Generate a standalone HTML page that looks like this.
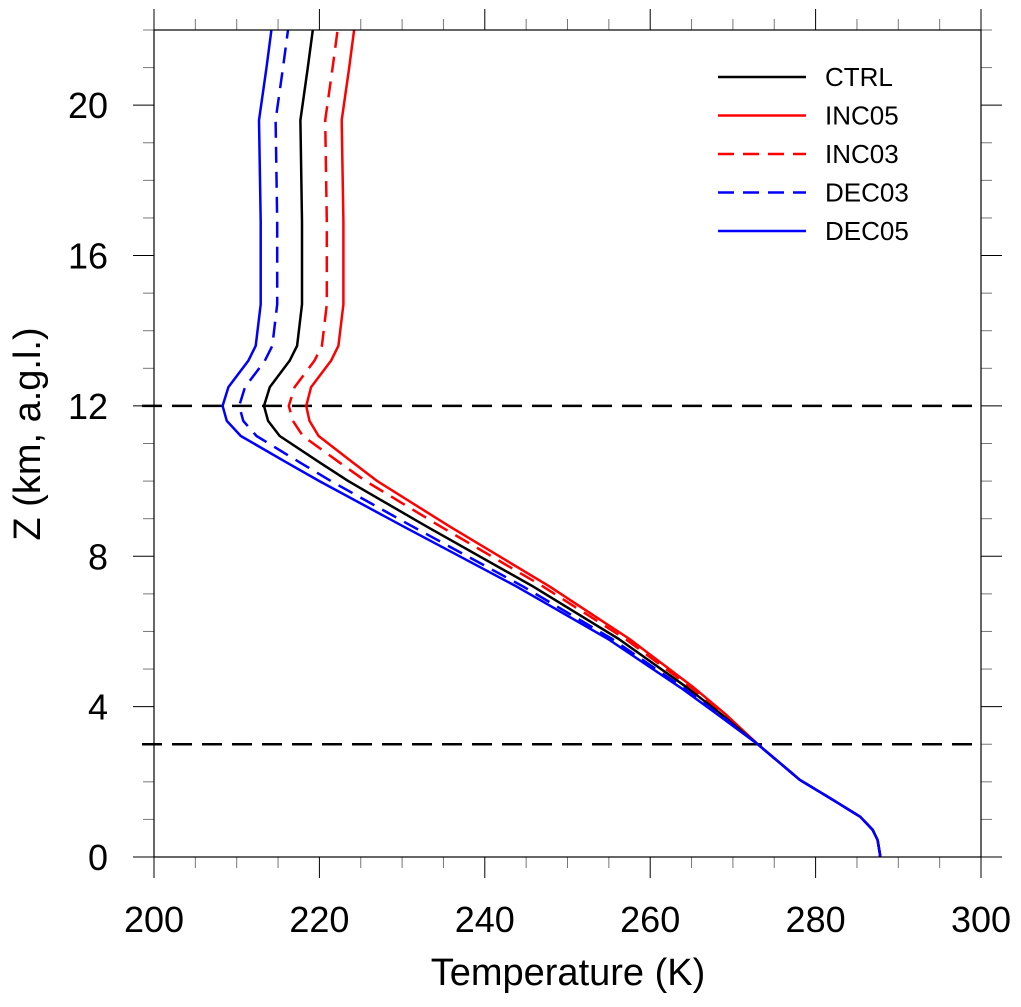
<!DOCTYPE html>
<html><head><meta charset="utf-8"><style>
body{margin:0;background:#fff}
svg text{font-family:"Liberation Sans",sans-serif;fill:#000}
</style></head><body>
<svg id="chart" width="1021" height="1002" xmlns="http://www.w3.org/2000/svg">
<g id="ticks"></g>
<g id="refs"></g>
<g id="series"></g>
<rect x="154" y="30" width="827" height="827" fill="none" stroke="#000" stroke-width="1.2"/>
<g id="labels"></g>
<text x="568" y="985" font-size="38" text-anchor="middle">Temperature (K)</text>
<text transform="translate(40,434) rotate(-90)" font-size="38" text-anchor="middle">Z (km, a.g.l.)</text>
<g id="legend"></g>
</svg>
<script>
const levels=[0,0.05,0.45,0.72,1.07,1.52,2.05,3.0,3.8,4.5,5.8,7.2,8.8,10.0,10.5,11.2,11.6,12.0,12.5,13.2,13.6,14.7,16.9,19.6,21.0,22];
const ctrl=[287.8,287.8,287.5,286.9,285.4,282.1,278.1,273.0,268.6,264.5,256.2,245.8,232.9,223.5,220.0,215.2,213.8,213.3,214.0,216.4,217.3,217.9,217.9,217.7,218.6,219.2];
const inc05=[287.8,287.8,287.5,286.9,285.4,282.1,278.1,273.0,269.1,265.3,257.5,247.8,235.7,227.0,224.0,219.9,218.8,218.4,219.0,221.4,222.3,222.9,222.9,222.7,223.6,224.2];
const inc03=[287.8,287.8,287.5,286.9,285.4,282.1,278.1,273.0,268.9,265.0,257.0,247.0,234.6,225.6,222.4,218.0,216.8,216.3,217.0,219.4,220.3,220.9,220.9,220.7,221.6,222.2];
const dec03=[287.8,287.8,287.5,286.9,285.4,282.1,278.1,273.0,268.3,264.0,255.4,244.6,231.2,221.4,217.6,212.4,210.8,210.3,211.0,213.4,214.3,214.9,214.9,214.7,215.6,216.2];
const dec05=[287.8,287.8,287.5,286.9,285.4,282.1,278.1,273.0,268.1,263.7,254.9,243.8,230.1,220.0,216.0,210.5,208.8,208.3,209.0,211.4,212.3,212.9,212.9,212.7,213.6,214.2];
const xTicks=[200,220,240,260,280,300];
const yTicks=[0,4,8,12,16,20];
const refLevels=[12,3];
const seriesNames=["CTRL","INC05","INC03","DEC03","DEC05"];
const NS="http://www.w3.org/2000/svg";
const X=t=>154+(t-200)*827/100;
const Y=z=>857-z*827/22;
function mk(tag,attrs,parent){const e=document.createElementNS(NS,tag);for(const k in attrs)e.setAttribute(k,attrs[k]);parent.appendChild(e);return e;}
const tg=document.getElementById('ticks'),lg=document.getElementById('labels');
for(let t=200;t<=300;t+=5){const maj=(t%20===0),L=maj?21:11,c=maj?'#000':'#777';
 let a=mk('line',{x1:X(t),x2:X(t),y1:857,y2:857+L,stroke:c,'stroke-width':1},tg);
 
 let b=mk('line',{x1:X(t),x2:X(t),y1:30,y2:30-L,stroke:c,'stroke-width':1},tg);
 }
for(let z=0;z<=22;z+=1){const maj=(z%4===0),L=maj?21:11,c=maj?'#000':'#777';
 let a=mk('line',{x1:154,x2:154-L,y1:Y(z),y2:Y(z),stroke:c,'stroke-width':1},tg);
 
 let b=mk('line',{x1:981,x2:981+L,y1:Y(z),y2:Y(z),stroke:c,'stroke-width':1},tg);
 }
xTicks.forEach(t=>{const e=mk('text',{x:X(t),y:932,'font-size':36,'text-anchor':'middle'},lg);e.textContent=t;
 });
yTicks.forEach(z=>{const e=mk('text',{x:108,y:Y(z)+13,'font-size':36,'text-anchor':'end'},lg);e.textContent=z;
 });
const rg=document.getElementById('refs');
refLevels.forEach(z=>{const e=mk('line',{x1:142,x2:981,y1:Y(z),y2:Y(z),stroke:'#000','stroke-width':2.5,'stroke-dasharray':'20,10'},rg);
 });
const sg=document.getElementById('series');
const styles=[{c:'#000',d:''},{c:'#f00',d:''},{c:'#f00',d:'16,9'},{c:'#00f',d:'16,9'},{c:'#00f',d:''}];
const data=[ctrl,inc05,inc03,dec03,dec05];
const order=[1,2,0,3,4];
order.forEach(i=>{const pts=data[i].map((t,k)=>X(t).toFixed(1)+','+Y(levels[k]).toFixed(1)).join(' ');
 const e=mk('polyline',{points:pts,fill:'none',stroke:styles[i].c,'stroke-width':2.5,'stroke-dasharray':styles[i].d,'stroke-linejoin':'round'},sg);
 });
const lgd=document.getElementById('legend');
seriesNames.forEach((n,i)=>{const y=77+i*38.5;
 const l=mk('line',{x1:718,x2:806,y1:y,y2:y,stroke:styles[i].c,'stroke-width':2.5,'stroke-dasharray':styles[i].d},lgd);
 
 const t=mk('text',{x:825,y:y+9,'font-size':26},lgd);t.textContent=n;
 });
</script>
</body></html>
